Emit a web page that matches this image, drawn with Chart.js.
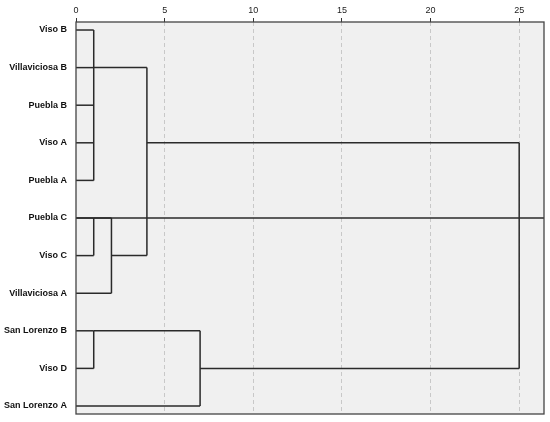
<!DOCTYPE html>
<html>
<head>
<meta charset="utf-8">
<script src="https://cdn.jsdelivr.net/npm/chart.js@4/dist/chart.umd.min.js"></script>
<style>
html,body{margin:0;padding:0;background:#fff;}
#wrap{width:550px;height:422px;position:relative;}
</style>
</head>
<body>
<div id="wrap"><canvas id="c"></canvas></div>
<script>
// Leaves (rows, top to bottom)
const leaves = ['Viso B','Villaviciosa B','Puebla B','Viso A','Puebla A','Puebla C','Viso C','Villaviciosa A','San Lorenzo B','Viso D','San Lorenzo A'];
// Distance at which each leaf first joins a cluster
const leafJoin = [1,1,1,1,1,1,1,2,1,1,7];
// Merge steps: distance, vertical span (top row, bottom row), row where the merged line continues, parent merge index
const mergeDist   = [1,1,1,2,4,7,25];
const mergeTop    = [0,5,8,5,1,8,3];
const mergeBottom = [4,6,9,7,6,10,9];
const mergeOutRow = [1,5,8,6,3,9,5];
const mergeParent = [4,3,5,4,6,6,-1];
// Axis
const xTicks = [0,5,10,15,20,25];
const xMax = 26.4;

const lineColor = '#2a2a2a';
const segs = [];
function seg(x1,y1,x2,y2){ segs.push([{x:x1,y:y1},{x:x2,y:y2}]); }
leaves.forEach((l,i)=> seg(0,i,leafJoin[i],i));
mergeDist.forEach((d,k)=>{
  seg(d,mergeTop[k],d,mergeBottom[k]);
  const p = mergeParent[k];
  if (p >= 0) seg(d,mergeOutRow[k],mergeDist[p],mergeOutRow[k]);
  else seg(0,mergeOutRow[k],xMax,mergeOutRow[k]);
});

const datasets = segs.map(s=>({
  data:s, showLine:true, borderColor:lineColor, borderWidth:1.5,
  pointRadius:0, fill:false, tension:0
}));

const bgPlugin = {
  id:'bg',
  beforeDraw(chart){
    const {ctx, chartArea:a} = chart;
    ctx.save(); ctx.fillStyle='#f0f0f0';
    ctx.fillRect(a.left,a.top,a.right-a.left,a.bottom-a.top);
    ctx.restore();
  },
  afterDraw(chart){
    const {ctx, chartArea:a} = chart;
    ctx.save(); ctx.strokeStyle='#444'; ctx.lineWidth=1.3;
    ctx.strokeRect(a.left,a.top,a.right-a.left,a.bottom-a.top);
    ctx.restore();
  }
};

new Chart(document.getElementById('c'),{
  type:'scatter',
  data:{datasets},
  plugins:[bgPlugin],
  options:{
    responsive:true, maintainAspectRatio:false, animation:false,
    layout:{padding:{left:0,right:6,top:0,bottom:8}},
    plugins:{legend:{display:false},tooltip:{enabled:false}},
    scales:{
      x:{
        type:'linear', position:'top', min:0, max:xMax,
        afterFit(s){ s.height = 22; s.paddingLeft = 0; s.paddingRight = 0; },
        afterBuildTicks(s){ s.ticks = xTicks.map(v=>({value:v})); },
        ticks:{stepSize:5, includeBounds:false, padding:2, color:'#222',
          font:{family:'Liberation Sans', size:9}},
        grid:{
          color:(c)=> c.tick && c.tick.value===0 ? 'rgba(0,0,0,0)' : '#c8c8c8',
          tickColor:'#333', tickLength:4, lineWidth:1, drawTicks:true
        },
        border:{display:false, dash:[4,3]}
      },
      y:{
        type:'linear', reverse:true, min:-0.213, max:10.213,
        afterFit(s){ s.width = 76; s.paddingTop = 0; s.paddingBottom = 0; },
        afterBuildTicks(s){ s.ticks = leaves.map((l,i)=>({value:i})); },
        ticks:{
          callback:(v)=> leaves[v] ?? '',
          padding:9, color:'#111',
          font:{family:'Liberation Sans', size:9, weight:'bold'}
        },
        grid:{display:false, drawTicks:false},
        border:{display:false}
      }
    }
  }
});
</script>
</body>
</html>
